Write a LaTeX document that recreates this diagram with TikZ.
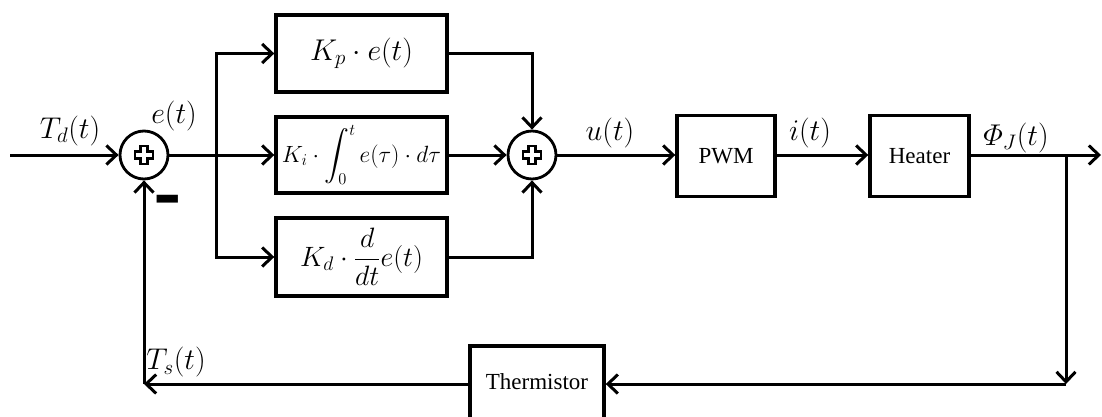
\RequirePackage{fix-cm}
\documentclass[tikz,border=0pt]{standalone}
\usepackage{amsmath}
\usepackage{fontspec}
\setmainfont{Liberation Serif}
\newfontfamily\dejavub{DejaVu Sans}
\usetikzlibrary{arrows.meta,calc}
\begin{document}
\begin{tikzpicture}[x=1pt,y=-1pt,
  wire/.style={line width=3pt},
  arr/.style={wire,-{Straight Barb[length=10pt,width=19pt]}},
  blk/.style={draw,line width=3.4pt,minimum width=171pt,minimum height=77pt,inner sep=0pt,font=\fontsize{28}{32}\selectfont},
  sumc/.style={draw,circle,line width=2.8pt,minimum size=48pt,inner sep=0pt},
  lbl/.style={inner sep=0pt,font=\fontsize{30}{34}\selectfont},
  txtbox/.style={draw,line width=3.4pt,inner sep=0pt,font=\fontsize{23}{27}\selectfont},
  pics/plusmark/.style={code={\draw[line width=2.2pt,fill=white,line join=miter]
     (-3.5,-9)--(3.5,-9)--(3.5,-3.5)--(9,-3.5)--(9,3.5)--(3.5,3.5)--(3.5,9)--(-3.5,9)--(-3.5,3.5)--(-9,3.5)--(-9,-3.5)--(-3.5,-3.5)--cycle;}}
]
\useasboundingbox (0,0) rectangle (1102,417);
\clip (0,0) rectangle (1102,417);

% nodes
\coordinate (in) at (10,155);
\node[sumc] (s1) at (144,155) {};
\coordinate (br) at (216,155);
\node[blk] (P) at (361.5,53.5) {\fontsize{30}{34}\selectfont$K_p\cdot e(t)$};
\node[blk,minimum height=76pt] (I) at (361.5,155) {\fontsize{23.5}{27}\selectfont$K_i\cdot\displaystyle\int_0^t e(\tau)\cdot d\tau$};
\node[blk,minimum height=78pt] (D) at (361.5,257) {$K_d\cdot\dfrac{d}{dt}e(t)$};
\node[sumc] (s2) at (532,155) {};
\node[txtbox,minimum width=98pt,minimum height=81pt] (pwm) at (726,156) {PWM};
\node[txtbox,minimum width=99pt,minimum height=81pt] (heat) at (919.5,156) {Heater};
\coordinate (out) at (1101,155);
\coordinate (tap) at (1066,155);
\coordinate (c2) at (1066,384);
\node[txtbox,minimum width=134pt,minimum height=84pt,text depth=13pt] (th) at (537,388) {Thermistor};
\coordinate (c1) at (144,384);

\pic at (s1) {plusmark};
\pic at (s2) {plusmark};

% connectors
\draw[arr] (in) -- (s1.west);
\draw[wire] (s1.east) -- (br);
\draw[arr] (br) -- (I.west);
\draw[arr] (br) |- (P.west);
\draw[arr] (br) |- (D.west);
\draw[arr] (P.east) -| (s2.north);
\draw[arr] (I.east) -- (s2.west);
\draw[arr] (D.east) -| (s2.south);
\draw[arr] (s2.east) -- (pwm.west |- s2.east);
\draw[arr] (pwm.east |- s2.east) -- (heat.west |- s2.east);
\draw[arr] (heat.east |- s2.east) -- (out);
\draw[arr] (tap) -- (c2);
\draw[arr] (c2) -- (th.east |- c2);
\draw[arr] (th.west |- c2) -- (c1);
\draw[arr] (c1) -- (s1.south);

% labels
\node[lbl] (ltd) at (70,131) {$T_d(t)$};
\node[lbl] (le) at (174,116) {$e(t)$};
\node[lbl] (lu) at (610,133) {$u(t)$};
\node[lbl] (li) at (810,133) {$i(t)$};
\node[lbl] (lphi) at (1016,138) {$\varPhi_J(t)$};
\node[lbl] (lts) at (176,362) {$T_s(t)$};
\node[inner sep=0pt] (minus) at (168,208) {\dejavub\bfseries\fontsize{34}{34}\selectfont\scalebox{1}[2]{\char"2212}};
\end{tikzpicture}
\end{document}
